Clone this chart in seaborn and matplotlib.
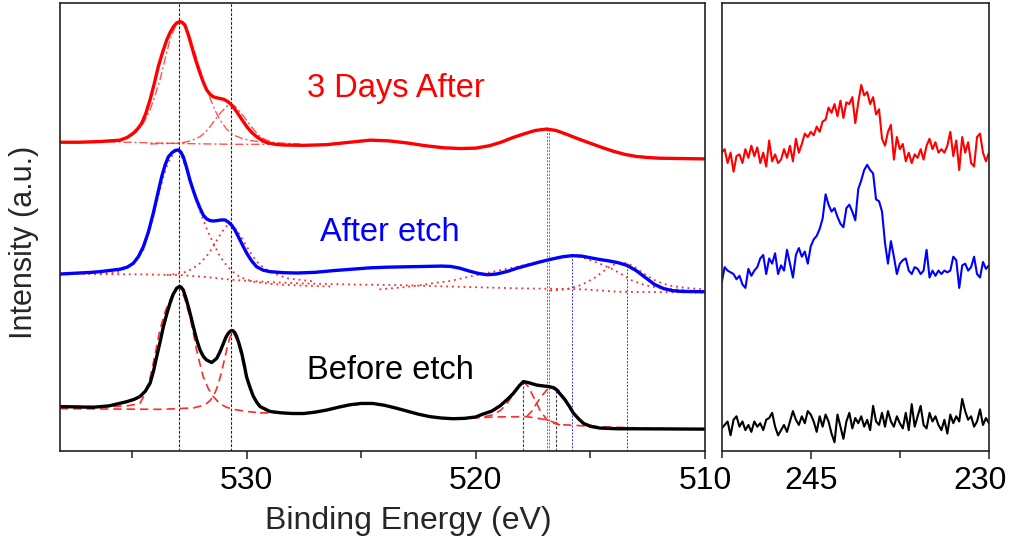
import numpy as np
import pandas as pd
import matplotlib
matplotlib.use("Agg")
import matplotlib.pyplot as plt
import matplotlib.transforms as mtransforms
import seaborn as sns

# ---------------- data (binding energy in eV, intensity in a.u.) ----------------
before_x = [538.16, 537.40, 536.69, 536.00, 535.23, 534.90, 534.65, 534.42, 534.21, 534.06,
            533.92, 533.77, 533.63, 533.48, 533.34, 533.20, 533.05, 532.93, 532.85, 532.76,
            532.65, 532.54, 532.43, 532.32, 532.18, 532.03, 531.88, 531.74, 531.52, 531.30,
            531.15, 531.01, 530.90, 530.80, 530.70, 530.61, 530.52, 530.43, 530.32, 530.21,
            530.10, 530.00, 529.85, 529.70, 529.55, 529.41, 528.98, 528.50, 528.00, 527.50,
            527.00, 526.50, 526.00, 525.50, 525.00, 524.50, 524.00, 523.50, 523.00, 522.50,
            522.00, 521.50, 521.00, 520.50, 520.00, 519.70, 519.30, 518.94, 518.60, 518.36,
            518.10, 517.92, 517.70, 517.34, 517.00, 516.83, 516.60, 516.47, 516.30, 516.10,
            515.90, 515.74, 515.50, 515.31, 515.00, 514.58, 513.80, 513.13, 510.00]
before_y = [128, 127, 126, 130, 142, 149, 157, 172, 195, 230,
            272, 315, 358, 395, 426, 452, 469, 474, 472, 464,
            442, 416, 388, 358, 322, 291, 272, 262, 255, 267,
            287, 310, 328, 339, 346, 347, 342, 330, 308, 282,
            248, 214, 183, 157, 140, 128, 114, 110, 108, 108,
            112, 118, 126, 133, 137, 137, 132, 124, 115, 106,
            99, 95, 93, 94, 98, 106, 115, 130, 150, 166,
            188, 200, 197, 190, 187, 186, 182, 176, 163, 147,
            127, 109, 92, 80, 71, 66, 64, 64, 63]

etch_x = [538.16, 536.75, 536.39, 535.52, 535.20, 534.94, 534.72, 534.50, 534.28, 534.07,
          533.88, 533.70, 533.55, 533.41, 533.25, 533.12, 532.98, 532.87, 532.76, 532.62,
          532.47, 532.32, 532.18, 532.03, 531.89, 531.74, 531.59, 531.45, 531.30, 531.10,
          530.94, 530.80, 530.65, 530.50, 530.36, 530.18, 529.99, 529.78, 529.56, 529.27,
          528.98, 528.40, 527.80, 527.00, 526.20, 525.40, 524.60, 523.80, 523.00, 522.20,
          521.50, 521.10, 520.70, 520.30, 519.90, 519.50, 519.10, 518.60, 518.20, 517.70,
          517.20, 516.70, 516.20, 515.80, 515.40, 515.00, 514.60, 514.20, 513.80, 513.40,
          513.00, 512.60, 512.20, 511.80, 511.40, 511.00, 510.00]
etch_y = [510, 515, 517, 524, 530, 541, 560, 589, 632, 685,
          740, 791, 825, 848, 860, 866, 868, 862, 848, 818,
          781, 750, 724, 700, 680, 669, 664, 663, 664, 666,
          666, 660, 651, 636, 618, 594, 570, 548, 531, 521,
          517, 514, 513, 515, 520, 524, 528, 530, 531, 532,
          533, 532, 527, 519, 512, 508, 510, 518, 527, 536,
          545, 553, 560, 563, 562, 557, 552, 548, 543, 535,
          520, 500, 480, 468, 462, 460, 459]

days_x = [538.16, 537.30, 536.39, 535.52, 535.20, 534.94, 534.76, 534.58, 534.40, 534.21,
          534.03, 533.85, 533.66, 533.48, 533.33, 533.19, 533.05, 532.90, 532.80, 532.69,
          532.55, 532.39, 532.21, 532.03, 531.88, 531.74, 531.59, 531.45, 531.23, 531.01,
          530.86, 530.72, 530.58, 530.43, 530.21, 529.99, 529.77, 529.56, 529.34, 529.12,
          528.75, 528.39, 527.50, 526.50, 525.50, 524.60, 523.80, 523.00, 522.20, 521.40,
          520.70, 520.00, 519.40, 518.90, 518.40, 517.90, 517.40, 516.90, 516.50, 516.00,
          515.50, 515.00, 514.50, 514.00, 513.50, 513.00, 512.50, 512.00, 511.00, 510.00]
days_y = [890, 890, 892, 896, 904, 916, 928, 944, 972, 1012,
          1058, 1108, 1150, 1185, 1207, 1223, 1234, 1238, 1235, 1228,
          1202, 1165, 1125, 1089, 1062, 1041, 1028, 1021, 1017, 1014,
          1009, 1002, 991, 978, 956, 935, 918, 906, 896, 889,
          884, 882, 881, 883, 890, 896, 894, 888, 880, 874,
          872, 873, 880, 890, 903, 914, 924, 928, 924, 912,
          899, 887, 875, 864, 855, 849, 846, 844, 843, 842]

# fitted components -- Before etch (dashed)
b_c1_x = [538.14, 535.96, 535.20, 534.65, 534.43, 534.21, 534.00, 533.78, 533.56, 533.34,
          533.13, 532.93, 532.70, 532.47, 532.32, 532.18, 532.03, 531.89, 531.67, 531.45,
          531.16, 530.87, 530.58, 530.00, 529.41]
b_c1_y = [128, 128, 130, 137, 165, 210, 275, 349, 400, 435,
          462, 474, 440, 387, 340, 291, 250, 214, 180, 157,
          136, 126, 120, 114, 110]
b_c2_x = [538.14, 533.78, 532.32, 531.98, 531.74, 531.60, 531.45, 531.30, 531.16, 531.01,
          530.87, 530.74, 530.61, 530.45, 530.29, 530.14, 530.00, 529.78, 529.56, 529.34,
          529.12, 528.50, 527.96]
b_c2_y = [122, 120, 124, 130, 137, 145, 157, 180, 210, 250,
          291, 325, 344, 325, 291, 250, 214, 175, 142, 125,
          115, 109, 107]
b_bg_x = [529.41, 528.50, 527.50, 526.50, 525.50, 524.75, 524.00, 523.00, 522.00, 521.00,
          520.20, 519.23, 517.78, 516.90, 516.32, 514.58, 512.40, 510.07]
b_bg_y = [110, 109, 108, 117, 132, 137, 131, 114, 99, 93,
          95, 98, 99, 90, 76, 70, 65, 63]
b_c3_x = [520.20, 519.60, 519.23, 518.90, 518.60, 518.40, 518.21, 518.05, 517.92, 517.70,
          517.49, 517.20, 516.90, 516.60, 516.32]
b_c3_y = [96, 99, 105, 118, 140, 160, 178, 193, 200, 185,
          157, 118, 90, 80, 75]
b_c4_x = [517.78, 517.55, 517.34, 517.10, 516.90, 516.62, 516.40, 516.18, 515.95, 515.74,
          515.50, 515.31, 514.58, 512.40]
b_c4_y = [99, 115, 138, 160, 176, 186, 176, 157, 132, 109,
          90, 81, 66, 63]

# fitted components -- After etch (dotted)
e_c1_x = [536.39, 535.52, 534.94, 534.72, 534.50, 534.28, 534.07, 533.85, 533.63, 533.45,
          533.27, 533.12, 532.98, 532.80, 532.61, 532.43, 532.25, 532.07, 531.89, 531.67,
          531.45, 531.23, 531.01, 530.72, 530.43, 530.07, 529.70, 529.00, 528.40, 527.30,
          526.21]
e_c1_y = [510, 517, 541, 558, 580, 625, 676, 735, 791, 826,
          849, 862, 868, 845, 810, 770, 733, 698, 666, 630,
          599, 570, 546, 524, 507, 496, 488, 482, 479, 476,
          474]
e_c2_x = [533.48, 533.00, 532.61, 532.32, 532.03, 531.74, 531.45, 531.23, 531.01, 530.80,
          530.60, 530.43, 530.21, 529.99, 529.77, 529.56, 529.27, 528.98, 528.25, 527.00]
e_c2_y = [507, 511, 517, 527, 541, 562, 589, 615, 637, 654,
          649, 637, 614, 589, 566, 546, 529, 517, 498, 488]
e_bg_x = [538.16, 536.39, 534.50, 532.90, 531.70, 530.58, 529.00, 527.67, 525.50, 523.30,
          521.12, 518.21, 515.31, 513.82, 510.07]
e_bg_y = [510, 510, 509, 507, 501, 493, 487, 483, 480, 478,
          474, 469, 466, 459, 457]
e_c3_x = [524.20, 523.13, 522.40, 521.72, 521.12, 520.25, 519.23, 518.21, 517.50, 516.90,
          516.30, 515.80, 515.30, 514.84, 514.40, 513.97, 513.60, 513.24, 512.80, 512.36,
          511.60, 510.90]
e_c3_y = [466, 472, 478, 485, 490, 503, 517, 531, 542, 551,
          559, 563, 557, 546, 535, 522, 508, 493, 482, 474,
          467, 464]
e_c4_x = [516.75, 516.10, 515.58, 515.20, 514.84, 514.55, 514.26, 513.95, 513.67, 513.38,
          513.08, 512.79, 512.50, 512.21, 511.85, 511.48, 510.80, 510.07]
e_c4_y = [462, 466, 474, 485, 498, 512, 527, 538, 543, 541,
          531, 517, 504, 493, 483, 476, 470, 466]

# fitted components -- 3 Days After (dash-dot)
d_c1_x = [536.39, 535.52, 535.10, 534.79, 534.50, 534.21, 534.00, 533.78, 533.56, 533.34,
          533.12, 532.90, 532.69, 532.47, 532.25, 532.03, 531.81, 531.59, 531.38, 531.16,
          530.87, 530.58, 530.20, 529.85, 528.83]
d_c1_y = [892, 897, 906, 921, 945, 983, 1023, 1069, 1128, 1185,
          1222, 1238, 1224, 1194, 1148, 1098, 1055, 1017, 983, 954,
          928, 911, 901, 895, 887]
d_c2_x = [534.21, 533.20, 532.76, 532.40, 532.03, 531.81, 531.59, 531.38, 531.16, 530.92,
          530.69, 530.49, 530.29, 530.07, 529.85, 529.63, 529.41, 529.12, 528.83, 527.67]
d_c2_y = [885, 887, 889, 895, 906, 918, 935, 954, 973, 990,
          1002, 993, 978, 960, 940, 922, 906, 896, 889, 885]
d_bg_x = [538.16, 536.39, 533.48, 530.58, 529.00]
d_bg_y = [890, 892, 887, 884, 884]

# reference lines
ref_black_full = [532.93, 530.68]
ref_black_short_x = [517.93, 516.50]
ref_black_short_top = [198, 178]
ref_red_x = [516.91, 516.81]
ref_red_top = [928, 925]
ref_blue_x = [515.80, 513.38]
ref_blue_top = [565, 541]

# right panel (noisy spectra), 0.25 eV steps from 252.5 to 230
right_x = np.linspace(252.5, 230.0, 91)
right_red = [860, 870, 830, 860, 805, 850, 855, 830, 870, 845,
             880, 850, 875, 830, 860, 820, 895, 835, 855, 830,
             840, 870, 845, 880, 835, 900, 860, 885, 915, 905,
             920, 910, 935, 920, 950, 955, 990, 975, 1000, 965,
             1010, 960, 1005, 1000, 1020, 945, 1005, 1055, 1025, 1035,
             1000, 1020, 970, 985, 900, 880, 920, 940, 840, 905,
             870, 885, 835, 860, 830, 855, 845, 870, 840, 880,
             900, 870, 890, 860, 870, 860, 880, 920, 850, 895,
             810, 905, 860, 890, 830, 820, 905, 915, 860, 835,
             860]
right_blue = [485, 530, 520, 515, 510, 495, 505, 480, 470, 525,
              505, 520, 530, 555, 565, 510, 555, 540, 570, 510,
              535, 520, 580, 540, 500, 565, 585, 560, 575, 540,
              590, 610, 620, 640, 670, 740, 710, 690, 700, 675,
              655, 645, 700, 710, 690, 665, 755, 780, 810, 825,
              810, 800, 725, 720, 690, 600, 540, 605, 560, 510,
              540, 550, 555, 520, 510, 530, 525, 510, 520, 580,
              500, 520, 505, 520, 510, 520, 515, 520, 560, 550,
              470, 535, 540, 520, 530, 560, 510, 500, 545, 525,
              535]
right_black = [65, 75, 85, 45, 90, 100, 70, 85, 60, 75,
               55, 85, 70, 80, 60, 90, 95, 110, 70, 45,
               60, 75, 55, 85, 115, 90, 75, 100, 80, 115,
               105, 85, 55, 100, 70, 105, 85, 50, 25, 105,
               70, 35, 85, 110, 65, 95, 80, 100, 70, 90,
               60, 130, 85, 75, 110, 70, 115, 85, 70, 100,
               80, 65, 110, 60, 135, 70, 100, 130, 75, 65,
               110, 85, 100, 75, 60, 90, 50, 105, 80, 100,
               85, 150, 115, 90, 100, 70, 85, 120, 75, 95,
               80]

label_days = "3 Days After"
label_etch = "After etch"
label_before = "Before etch"
xlabel = "Binding Energy (eV)"
ylabel = "Intensity (a.u.)"

# ---------------- figure ----------------
sns.set_theme(style="ticks")
plt.rcParams["font.family"] = ["Liberation Sans", "DejaVu Sans"]

RED = "#ff0000"
BLUE = "#0000ff"
BLACK = "#000000"
FIT = "#ff2a2a"

fig = plt.figure(figsize=(10.12, 5.44), dpi=100)
ax = fig.add_axes([0.0588, 0.171, 0.6378, 0.8226])
ax2 = fig.add_axes([0.7131, 0.171, 0.2641, 0.8226])

YMAX = 1290

def line(a, xs, ys, **kw):
    df = pd.DataFrame({"x": xs, "y": ys})
    sns.lineplot(data=df, x="x", y="y", ax=a, sort=False, estimator=None, legend=False, **kw)

for xv in ref_black_full:
    line(ax, [xv, xv], [0, YMAX], color="#222222", lw=0.8, dashes=(2.5, 1.5))
for xv, yt in zip(ref_black_short_x, ref_black_short_top):
    line(ax, [xv, xv], [0, yt], color="#444444", lw=0.8, dashes=(2.5, 1.5))
for xv, yt in zip(ref_red_x, ref_red_top):
    line(ax, [xv, xv], [0, yt], color=RED, lw=0.7, dashes=(2, 1.5), alpha=0.8)
for xv, yt in zip(ref_blue_x, ref_blue_top):
    line(ax, [xv, xv], [0, yt], color=BLUE, lw=0.7, dashes=(2, 1.5), alpha=0.8)

for xs, ys in [(b_c1_x, b_c1_y), (b_c2_x, b_c2_y), (b_bg_x, b_bg_y), (b_c3_x, b_c3_y), (b_c4_x, b_c4_y)]:
    line(ax, xs, ys, color=FIT, lw=1.2, dashes=(5, 3))
for xs, ys in [(e_c1_x, e_c1_y), (e_c2_x, e_c2_y), (e_bg_x, e_bg_y), (e_c3_x, e_c3_y), (e_c4_x, e_c4_y)]:
    line(ax, xs, ys, color=FIT, lw=1.3, dashes=(1, 2.2))
for xs, ys in [(d_c1_x, d_c1_y), (d_c2_x, d_c2_y), (d_bg_x, d_bg_y)]:
    line(ax, xs, ys, color=FIT, lw=1.0, dashes=(6, 2, 1.5, 2), alpha=0.8)

line(ax, before_x, before_y, color=BLACK, lw=2.4)
line(ax, etch_x, etch_y, color=BLUE, lw=2.4)
line(ax, days_x, days_y, color=RED, lw=2.4)

ax.text(523.5, 1046, label_days, color=RED, fontsize=23.5, ha="center", va="center")
ax.text(523.74, 631, label_etch, color=BLUE, fontsize=23.5, ha="center", va="center")
ax.text(523.74, 231, label_before, color=BLACK, fontsize=23.5, ha="center", va="center")

line(ax2, right_x, right_red, color=RED, lw=1.5)
line(ax2, right_x, right_blue, color=BLUE, lw=1.5)
line(ax2, right_x, right_black, color=BLACK, lw=1.5)

ax.set_xlim(538.16, 510)
ax2.set_xlim(252.5, 230)
for a in (ax, ax2):
    a.set_ylim(0, YMAX)
    a.set_yticks([])
    a.set_ylabel("")
    a.set_xlabel("")
    for s in a.spines.values():
        s.set_visible(True)
        s.set_linewidth(1.2)
        s.set_color("#222222")
    a.tick_params(axis="x", which="major", direction="out", length=6, width=1.1,
                  labelsize=23, pad=5, colors="#222222", labelcolor="black")
    a.tick_params(axis="x", which="minor", direction="out", length=5, width=1.1, colors="#222222")

ax.set_xticks([530, 520, 510])
ax.set_xticks([535, 525, 515], minor=True)
ax2.set_xticks([245, 230])
ax2.set_xticks([252.5, 237.5], minor=True)

# the last label of the right panel sits slightly left of its tick, as in the reference
shift = mtransforms.ScaledTranslation(-9 / 100, 0, fig.dpi_scale_trans)
lab230 = ax2.get_xticklabels()[1]
lab230.set_transform(lab230.get_transform() + shift)

ax.set_xlabel(xlabel, fontsize=23)
ax.xaxis.set_label_coords(0.54, -0.122)
ax.set_ylabel(ylabel, fontsize=22)
ax.yaxis.set_label_coords(-0.032, 0.467)

fig.savefig("out.png", dpi=100)
